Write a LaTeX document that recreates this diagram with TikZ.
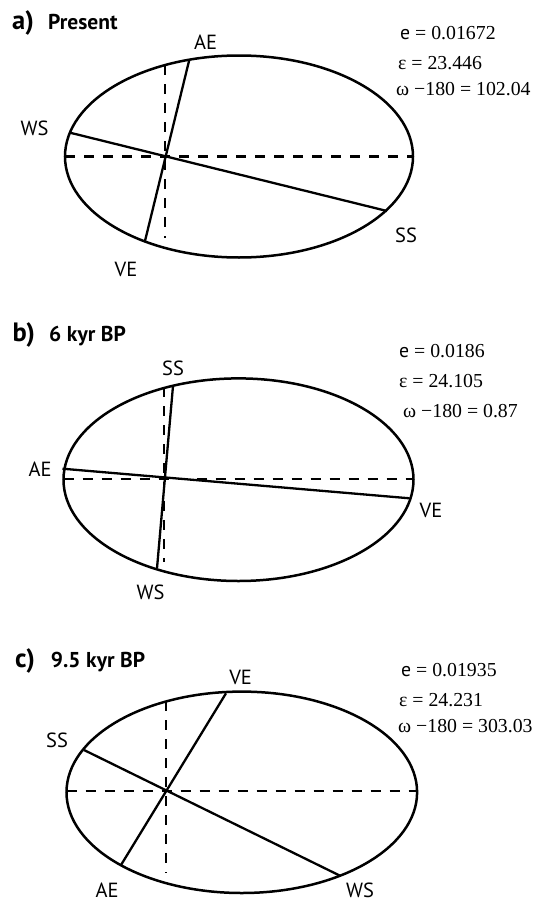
\documentclass[tikz,border=0pt]{standalone}
\usepackage{fontspec}
\setmainfont{Liberation Serif}
\newfontfamily\labfont{PT Sans}
\begin{document}
\begin{tikzpicture}[x=1pt,y=-1pt,
  orbit/.style={line width=2.5pt},
  axisline/.style={line width=2.3pt, dash pattern=on 10pt off 9pt},
  season/.style={line width=2.3pt},
  lbl/.style={font=\labfont\fontsize{20.5}{24}\selectfont, inner sep=0pt, anchor=base},
  eq/.style={font=\fontsize{19.8}{22}\selectfont, inner sep=0pt, anchor=base west},
  ttl/.style={font=\labfont\bfseries\fontsize{21.5}{24}\selectfont, inner sep=0pt, anchor=base west},
  tletter/.style={font=\labfont\bfseries\fontsize{26.5}{30}\selectfont, inner sep=0pt, anchor=base west}]
\useasboundingbox (0,0) rectangle (534,902);

% ---------------- panel a ----------------
\node[tletter] (ta) at (12,29.3) {a)};
\node[ttl] (tap) at (48,29.3) {Present};
\node[eq] (ea1) at (400,39.3) {{\labfont e} = 0.01672};
\node[eq] (ea2) at (398,69.3) {ε = 23.446};
\node[eq] (ea3) at (396,95) {ω −180 = 102.04};

\draw[orbit] (239,156.5) ellipse [x radius=174pt, y radius=101pt];
\coordinate (aH1) at (65,156.5);
\coordinate (aH2) at (413,156.5);
\coordinate (aV1) at (165,65.2);
\coordinate (aV2) at (165,238);
\draw[axisline] (aH1) -- (aH2);
\draw[axisline] (aV1) -- (aV2);
\coordinate (aAE) at (189,61);
\coordinate (aVE) at (145,241);
\coordinate (aWS) at (70,132.7);
\coordinate (aSS) at (387,211);
\draw[season] (aAE) -- (aVE);
\draw[season] (aWS) -- (aSS);
\node[lbl] (laAE) at (205.5,49.3) {AE};
\node[lbl] (laWS) at (34.5,135) {WS};
\node[lbl] (laVE) at (126,276.7) {VE};
\node[lbl] (laSS) at (406,242.3) {SS};

% ---------------- panel b ----------------
\node[tletter] (tb) at (12.5,341.7) {b)};
\node[ttl] (tbp) at (49,341.7) {6 kyr BP};
\node[eq] (eb1) at (399,357.7) {{\labfont e} = 0.0186};
\node[eq] (eb2) at (399,387.7) {ε = 24.105};
\node[eq] (eb3) at (403,417.7) {ω −180 = 0.87};

\draw[orbit] (238.5,479.7) ellipse [x radius=175pt, y radius=101.3pt];
\coordinate (bH1) at (63.5,478.7);
\coordinate (bH2) at (413.5,478.7);
\coordinate (bV1) at (164,387.3);
\coordinate (bV2) at (164,561.7);
\draw[axisline] (bH1) -- (bH2);
\draw[axisline] (bV1) -- (bV2);
\coordinate (bSS) at (173,386);
\coordinate (bWS) at (157,568.3);
\coordinate (bAE) at (62.5,468.7);
\coordinate (bVE) at (409.6,498.3);
\draw[season] (bSS) -- (bWS);
\draw[season] (bAE) -- (bVE);
\node[lbl] (lbSS) at (173,375) {SS};
\node[lbl] (lbAE) at (40,476.7) {AE};
\node[lbl] (lbVE) at (431,517.3) {VE};
\node[lbl] (lbWS) at (150.5,599.3) {WS};

% ---------------- panel c ----------------
\node[tletter] (tc) at (15,667.3) {c)};
\node[ttl] (tcp) at (50.7,667.3) {9.5 kyr BP};
\node[eq] (ec1) at (401,676) {{\labfont e} = 0.01935};
\node[eq] (ec2) at (399,706) {ε = 24.231};
\node[eq] (ec3) at (398,732.7) {ω −180 = 303.03};

\draw[orbit] (241.8,792.3) ellipse [x radius=175.3pt, y radius=100.7pt];
\coordinate (cH1) at (66.5,791.3);
\coordinate (cH2) at (417,791.3);
\coordinate (cV1) at (166.2,701);
\coordinate (cV2) at (166.2,873.3);
\draw[axisline] (cH1) -- (cH2);
\draw[axisline] (cV1) -- (cV2);
\coordinate (cVE) at (226,693.3);
\coordinate (cAE) at (121,865);
\coordinate (cSS) at (84,750);
\coordinate (cWS) at (340,875.7);
\draw[season] (cVE) -- (cAE);
\draw[season] (cSS) -- (cWS);
\node[lbl] (lcVE) at (240.6,684) {VE};
\node[lbl] (lcSS) at (57,747.3) {SS};
\node[lbl] (lcAE) at (107,897) {AE};
\node[lbl] (lcWS) at (360,897.5) {WS};
\end{tikzpicture}
\end{document}
